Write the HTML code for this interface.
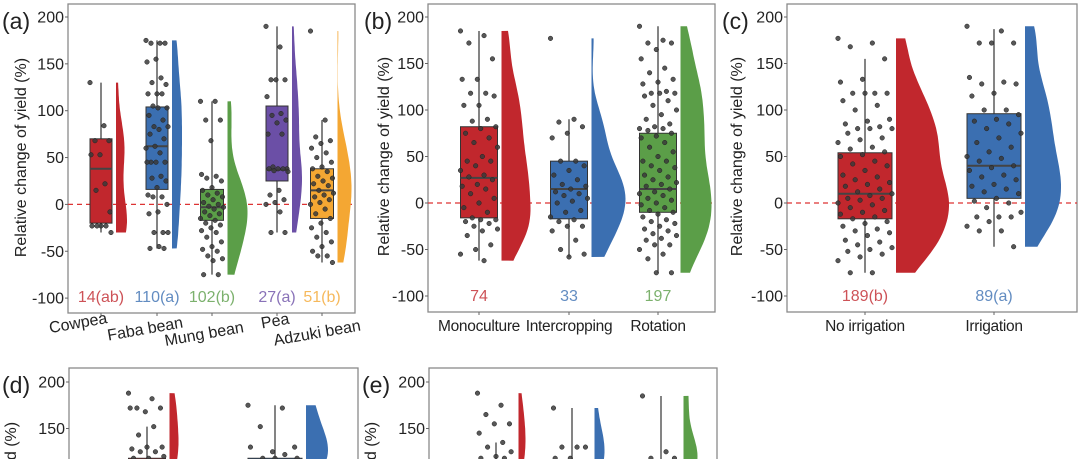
<!DOCTYPE html>
<html><head><meta charset="utf-8"><style>
html,body{margin:0;padding:0;background:#fff;width:1080px;height:459px;overflow:hidden;}
svg{display:block;font-family:"Liberation Sans",Arial,sans-serif;overflow:hidden;}
</style></head><body>
<svg id="chart" width="1080" height="459" viewBox="0 0 1080 459" xmlns="http://www.w3.org/2000/svg"><defs><clipPath id="pageclip"><rect x="0" y="0" width="1080" height="459"/></clipPath></defs><g id="root" clip-path="url(#pageclip)"></g></svg>
<script>
// ---- data (values in % relative change of yield) ----
const catsA = ["Cowpea","Faba bean","Mung bean","Pea","Adzuki bean"];
const countsA = ["14(ab)","110(a)","102(b)","27(a)","51(b)"];
const ptsCowpea = [130,84,68,68,53,53,22,15,-8,-23,-23,-23,-23,-30];
const ptsFaba = [175,172,172,172,155,152,135,130,128,118,118,118,105,103,103,95,90,83,83,80,75,70,62,60,55,45,45,45,45,30,28,25,18,10,8,8,0,-8,-10,-30,-30,-30,-45,-47,-47];
const ptsMung = [110,110,90,90,68,32,30,28,25,18,15,12,10,8,5,2,0,-2,-3,-5,-8,-10,-12,-15,-17,-20,-22,-25,-28,-30,-35,-40,-45,-48,-50,-55,-58,-60,-75,-75];
const ptsPea = [190,168,133,133,133,115,97,95,90,87,75,75,40,38,38,38,38,36,35,15,10,5,2,0,-8,-30,-30];
const ptsAdzuki = [185,90,72,68,65,60,55,50,45,40,38,35,30,28,25,22,20,15,12,10,8,5,2,0,-5,-10,-15,-20,-25,-30,-35,-40,-45,-50,-55,-55,-62];
// box stats: [whiskerLow, q1, median, q3, whiskerHigh]
const boxA = [[-30,-20,38,70,130],[-47,16,62,104,175],[-75,-17,-3,16,110],[-30,25,37,105,190],[-62,-15,15,38,90]];

const catsB = ["Monoculture","Intercropping","Rotation"];
const countsB = ["74","33","197"];
const ptsMono = [185,180,172,155,133,133,118,118,115,105,105,90,88,82,80,75,70,65,60,50,45,45,40,35,30,28,25,20,18,15,10,5,0,-5,-10,-16,-18,-18,-20,-22,-25,-28,-30,-35,-45,-50,-55,-62];
const ptsInter = [177,90,87,82,75,70,45,45,40,35,30,25,20,18,15,12,10,8,5,2,0,-8,-10,-15,-18,-20,-25,-25,-30,-40,-50,-55,-58];
const ptsRot = [190,175,172,172,165,155,145,140,133,130,128,120,118,118,118,115,110,105,100,95,90,85,82,80,80,78,75,72,70,65,60,55,50,45,45,40,38,35,30,28,25,22,20,18,15,12,10,8,5,3,0,-2,-5,-8,-10,-12,-15,-18,-20,-22,-25,-28,-30,-33,-35,-38,-40,-45,-45,-50,-55,-60,-75,-75];
const boxB = [[-62,-16,27,82,185],[-58,-17,15,45,90],[-75,-10,15,75,190]];

const catsC = ["No irrigation","Irrigation"];
const countsC = ["189(b)","89(a)"];
const ptsNoIrr = [177,172,168,155,133,130,118,118,118,118,110,105,100,90,88,85,82,80,80,80,75,70,68,65,60,58,55,52,50,45,42,40,35,30,28,25,22,20,18,15,12,10,8,5,5,3,0,-2,-5,-8,-10,-12,-15,-17,-20,-22,-25,-28,-30,-32,-35,-40,-42,-45,-48,-50,-52,-55,-58,-62,-75,-75];
const ptsIrr = [190,185,172,172,172,135,130,128,128,118,115,100,100,95,90,88,85,80,75,70,65,60,55,50,48,45,40,38,35,30,28,25,20,18,15,12,10,5,2,0,-5,-10,-15,-15,-15,-20,-25,-30,-30,-47];
const boxC = [[-75,-17,10,54,155],[-47,5,40,96,187]];

const ptsD1 = [188,182,172,172,168,172,152,143,130,130,128,125,125,120,118,118,60,20,0,-20];
const ptsD2 = [175,172,152,130,125,130,122,118,118,118,60,20,0,-20];
const boxD = [[-40,0,40,118,152],[-40,0,40,118,175]];
const ptsE1 = [188,175,165,155,155,145,135,130,125,120,118,118,60,20,0,-20];
const ptsE2 = [172,130,130,130,118,118,60,20,0,-20];
const ptsE3 = [185,125,118,118,60,20,0,-20];
const boxE = [[-40,0,40,110,135],[-40,0,40,110,172],[-40,0,40,112,185]];

const yTicks = [200,150,100,50,0,-50,-100];
const yTickLabels = ["200","150","100","50","0","-50","-100"];

// ---- layout ----
const RED="#c1272d",BLUE="#3b6fb1",GREEN="#5b9e48",PURPLE="#6b4fa6",ORANGE="#f4a733";
const panels = [
 {id:"a",x0:68,x1:355,top:4,bot:313,y0:204.4,k:0.937,lab:"(a)",labX:2,ylabX:22,
  groups:[{c:101,bw:22,vw:11,col:RED,pts:ptsCowpea,box:boxA[0]},{c:157,bw:22,vw:10,col:BLUE,pts:ptsFaba,box:boxA[1]},
  {c:212,bw:23,vw:20,col:GREEN,pts:ptsMung,box:boxA[2]},{c:277,bw:22,vw:10,col:PURPLE,pts:ptsPea,box:boxA[3]},{c:322,bw:23,vw:14,col:ORANGE,pts:ptsAdzuki,box:boxA[4]}],
  cats:catsA,counts:countsA,rot:true},
 {id:"b",x0:428,x1:715,top:4,bot:312,y0:203,k:0.93,lab:"(b)",labX:364,ylabX:385,
  groups:[{c:479,bw:37,vw:29,col:RED,pts:ptsMono,box:boxB[0]},{c:569,bw:37,vw:34,col:BLUE,pts:ptsInter,box:boxB[1]},{c:658,bw:37,vw:31,col:GREEN,pts:ptsRot,box:boxB[2]}],
  cats:catsB,counts:countsB},
 {id:"c",x0:787,x1:1077,top:4,bot:312,y0:203,k:0.93,lab:"(c)",labX:722,ylabX:738,
  groups:[{c:865,bw:54,vw:53,col:RED,pts:ptsNoIrr,box:boxC[0]},{c:994,bw:54,vw:36,col:BLUE,pts:ptsIrr,box:boxC[1]}],
  cats:catsC,counts:countsC},
 {id:"d",x0:69,x1:358,top:368,bot:470,y0:568,k:0.93,lab:"(d)",labX:2,ylabX:12,
  groups:[{c:147,bw:37,vw:9,col:RED,pts:ptsD1,box:boxD[0]},{c:275,bw:54,vw:22,col:BLUE,pts:ptsD2,box:boxD[1]}],cats:[],counts:[]},
 {id:"e",x0:429,x1:717,top:368,bot:470,y0:568,k:0.93,lab:"(e)",labX:362,ylabX:372,
  groups:[{c:496,bw:37,vw:7,col:RED,pts:ptsE1,box:boxE[0]},{c:572,bw:37,vw:10,col:BLUE,pts:ptsE2,box:boxE[1]},{c:661,bw:37,vw:14,col:GREEN,pts:ptsE3,box:boxE[2]}],cats:[],counts:[]}
];
const aLabelPos = [[79,328],[146,334],[205,339],[276,326],[318,338]];

const svg=document.getElementById("root");
const NS="http://www.w3.org/2000/svg";
function mk(tag,attrs,parent){const e=document.createElementNS(NS,tag);for(const a in attrs)e.setAttribute(a,attrs[a]);(parent||svg).appendChild(e);return e;}

panels.forEach(p=>{
  const y=v=>p.y0-v*p.k;
  const g=mk("g",{});
  
  
  const fr=mk("rect",{x:p.x0,y:p.top,width:p.x1-p.x0,height:p.bot-p.top,fill:"none",stroke:"#8a8a8a","stroke-width":1.3},g);
  
  
  const pl=mk("text",{x:p.labX,y:p.top+25,"font-size":23,fill:"#222"},g);pl.textContent=p.lab;
  
  
  const ymid=(y(200)+y(-100))/2;
  const yl=mk("text",{x:p.ylabX,y:ymid,"font-size":16,fill:"#222","text-anchor":"middle",transform:`rotate(-90 ${p.ylabX} ${ymid})`,"dominant-baseline":"middle"},g);
  yl.textContent="Relative change of yield (%)";
  
  
  yTicks.forEach((t,i)=>{
    mk("line",{x1:p.x0-3,x2:p.x0,y1:y(t),y2:y(t),stroke:"#666"},g);
    const tl=mk("text",{x:p.x0-4,y:y(t)+5.5,"font-size":16,fill:"#222","text-anchor":"end"},g);tl.textContent=yTickLabels[i];
    
    
  });
  const zl=mk("line",{x1:p.x0,x2:p.x1,y1:y(0),y2:y(0),stroke:"#d33","stroke-width":1.2,"stroke-dasharray":"5,4"},g);
  
  
  p.groups.forEach((gr,gi)=>{
    const b=gr.box;
    const mn=Math.min(...gr.pts),mx=Math.max(...gr.pts),bwK=24;
    const steps=60,dens=[];
    for(let s=0;s<=steps;s++){const v=mn+(mx-mn)*s/steps;let d=0;gr.pts.forEach(q=>{d+=Math.exp(-0.5*((v-q)/bwK)**2);});dens.push([v,d]);}
    const dmax=Math.max(...dens.map(d=>d[1]));
    const vx=gr.c+gr.bw/2+4;
    let path=`M${vx},${y(mn)}`;
    dens.forEach(([v,d])=>{path+=` L${(vx+d/dmax*gr.vw).toFixed(1)},${y(v).toFixed(1)}`;});
    path+=` L${vx},${y(mx)} Z`;
    const vi=mk("path",{d:path,fill:gr.col},g);
    
    
    mk("line",{x1:gr.c,x2:gr.c,y1:y(b[0]),y2:y(b[4]),stroke:"#333","stroke-width":1.2},g);
    const bx=mk("rect",{x:gr.c-gr.bw/2,y:y(b[3]),width:gr.bw,height:y(b[1])-y(b[3]),fill:gr.col,stroke:"#333","stroke-width":1},g);
    
    
    mk("line",{x1:gr.c-gr.bw/2,x2:gr.c+gr.bw/2,y1:y(b[2]),y2:y(b[2]),stroke:"#444","stroke-width":2},g);
    gr.pts.forEach((v,i)=>{
      const off=(((i*37)%23)-11)/11*gr.bw*0.5;
      const pt=mk("circle",{cx:gr.c+off,cy:y(v),r:2.3,fill:"#3a3a3a","fill-opacity":0.85,stroke:"#222","stroke-width":0.5},g);
      
      
    });
    if(p.counts[gi]){
      const ct=mk("text",{x:gr.c,y:p.bot-11,"font-size":16,fill:gr.col,"fill-opacity":0.8,"text-anchor":"middle"},g);ct.textContent=p.counts[gi];
      
      
    }
    if(p.cats[gi]){
      mk("line",{x1:gr.c,x2:gr.c,y1:p.bot,y2:p.bot+3,stroke:"#666"},g);
      let ct;
      if(p.rot){const [lx,ly]=aLabelPos[gi];ct=mk("text",{x:lx,y:ly,"font-size":16,fill:"#222","text-anchor":"middle",transform:`rotate(-10 ${lx} ${ly})`},g);}
      else ct=mk("text",{x:gr.c,y:p.bot+19,"font-size":15.5,fill:"#222","text-anchor":"middle","letter-spacing":"-0.3"},g);
      ct.textContent=p.cats[gi];
      
      
    }
  });
});
</script>
</body></html>
